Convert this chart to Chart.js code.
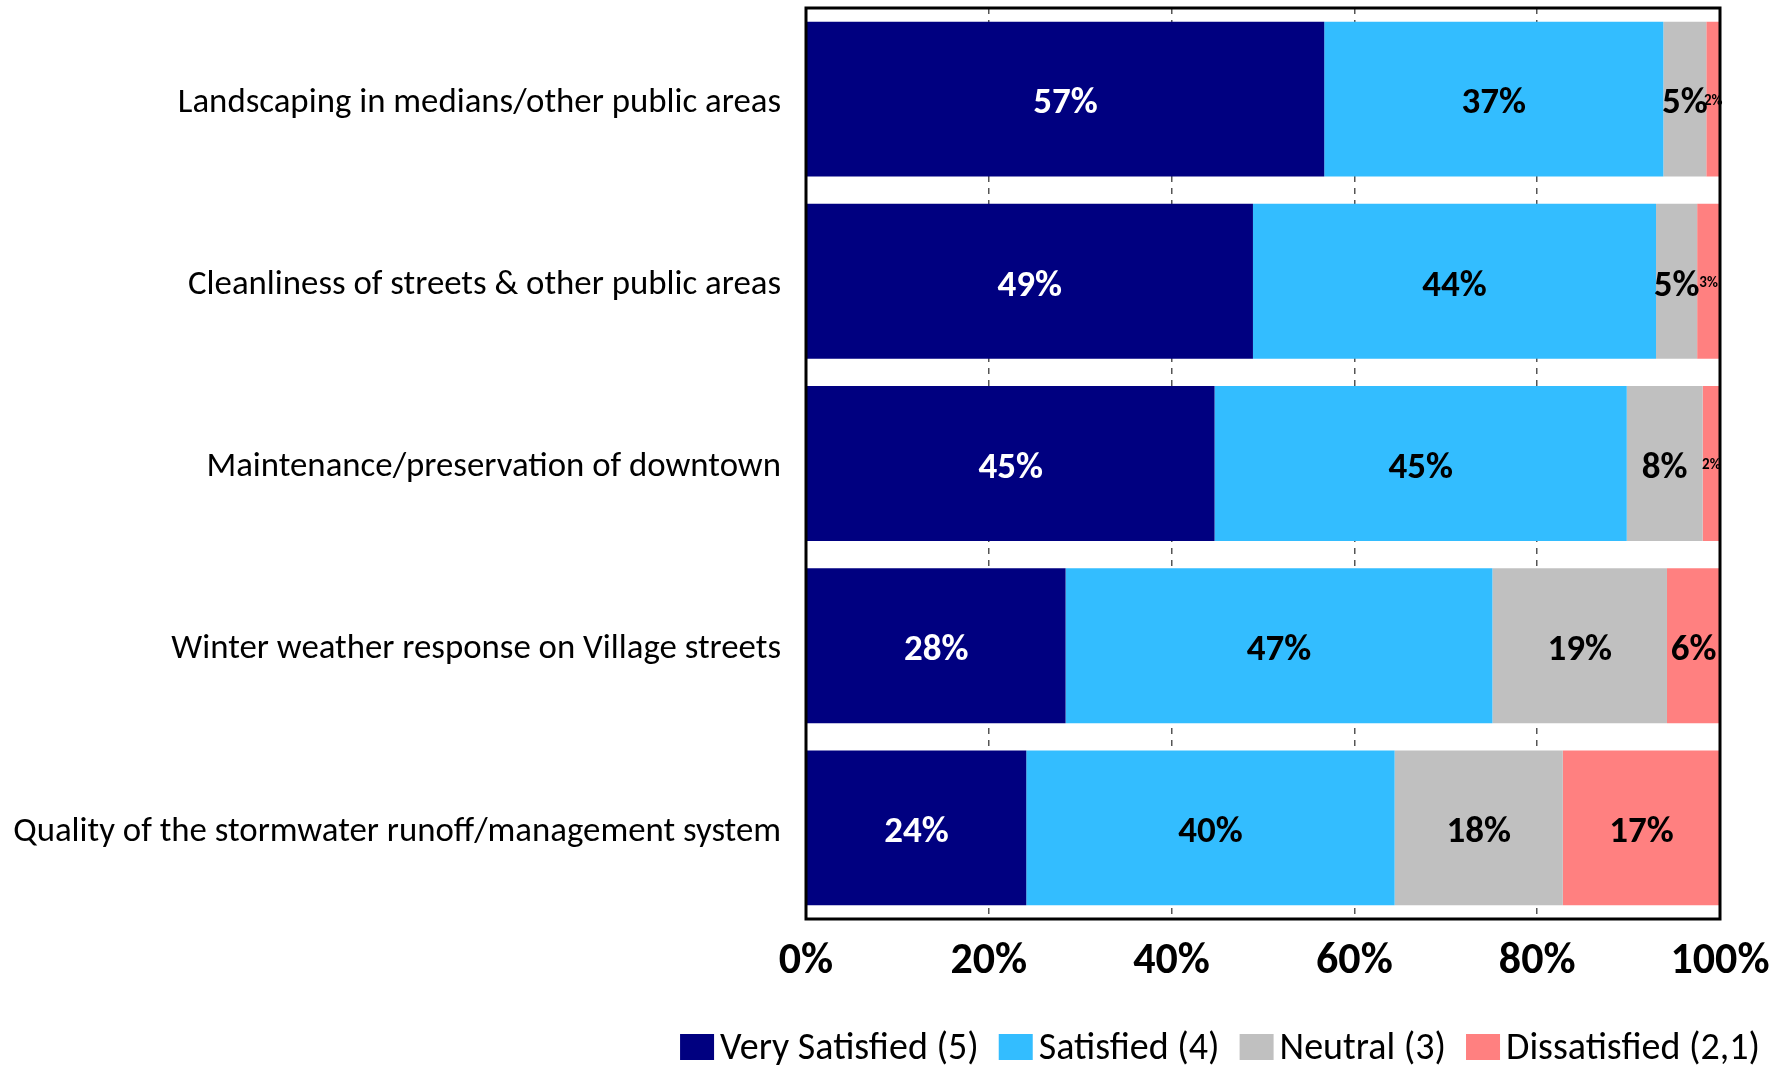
<!DOCTYPE html>
<html>
<head>
<meta charset="utf-8">
<script src="https://cdn.jsdelivr.net/npm/chart.js@4.4.0/dist/chart.umd.min.js"></script>
<style>
  html, body { margin: 0; padding: 0; background: #fff; }
  #wrap { width: 1783px; height: 1068px; }
</style>
</head>
<body>
<div id="wrap"><canvas id="satisfactionChart"></canvas></div>
<script>
const categories = [
    'Landscaping in medians/other public areas',
    'Cleanliness of streets & other public areas',
    'Maintenance/preservation of downtown',
    'Winter weather response on Village streets',
    'Quality of the stormwater runoff/management system'
];
const seriesNames = ['Very Satisfied (5)', 'Satisfied (4)', 'Neutral (3)', 'Dissatisfied (2,1)'];
const verySatisfied = [56.7, 48.9, 44.7, 28.4, 24.1];
const satisfied = [37.1, 44.1, 45.1, 46.7, 40.3];
const neutral = [4.7, 4.5, 8.3, 19.1, 18.4];
const dissatisfied = [1.5, 2.5, 1.9, 5.8, 17.2];
const xTicks = [0, 20, 40, 60, 80, 100];

const colors = ['#000080', '#33BDFF', '#C0C0C0', '#FF8080'];
const labelColors = ['#ffffff', '#000000', '#000000', '#000000'];
const FONT = "Carlito, Calibri, Lato, sans-serif";

// percentage text in the middle of every segment, tiny for thin slivers
const segmentLabels = {
    id: 'segmentLabels',
    afterDatasetsDraw(chart) {
        const ctx = chart.ctx;
        ctx.save();
        ctx.textAlign = 'center';
        ctx.textBaseline = 'middle';
        chart.data.datasets.forEach((ds, i) => {
            const meta = chart.getDatasetMeta(i);
            meta.data.forEach((bar, j) => {
                const v = ds.data[j];
                const size = v < 3 ? 15 : 37;
                ctx.font = `bold ${size}px ${FONT}`;
                ctx.fillStyle = labelColors[i];
                ctx.fillText(Math.round(v) + '%', (bar.x + bar.base) / 2, bar.y + (v < 3 ? 2 : 5));
            });
        });
        ctx.restore();
    }
};

// black frame round the plot area
const plotFrame = {
    id: 'plotFrame',
    afterDraw(chart) {
        const a = chart.chartArea;
        const ctx = chart.ctx;
        ctx.save();
        ctx.strokeStyle = '#000';
        ctx.lineWidth = 3;
        ctx.strokeRect(a.left, a.top, a.right - a.left, a.bottom - a.top);
        ctx.restore();
    }
};

// compact legend row, right aligned under the axis labels
const bottomLegend = {
    id: 'bottomLegend',
    afterDraw(chart) {
        const ctx = chart.ctx;
        const boxW = 34, boxH = 26, gap = 6, itemGap = 20;
        const right = 1760, midY = 1047;
        ctx.save();
        ctx.font = `38px ${FONT}`;
        ctx.textBaseline = 'middle';
        ctx.textAlign = 'left';
        const sets = chart.data.datasets;
        const widths = sets.map(ds => boxW + gap + ctx.measureText(ds.label).width);
        let x = right - widths.reduce((a, b) => a + b, 0) - itemGap * (sets.length - 1);
        sets.forEach((ds, i) => {
            ctx.fillStyle = ds.backgroundColor;
            ctx.fillRect(x, midY - boxH / 2, boxW, boxH);
            ctx.fillStyle = '#000';
            ctx.fillText(ds.label, x + boxW + gap, midY + 2);
            x += widths[i] + itemGap;
        });
        ctx.restore();
    }
};

const series = [verySatisfied, satisfied, neutral, dissatisfied];

new Chart(document.getElementById('satisfactionChart'), {
    type: 'bar',
    data: {
        labels: categories,
        datasets: series.map((vals, i) => ({
            label: seriesNames[i],
            data: vals,
            backgroundColor: colors[i],
            borderWidth: 0,
            categoryPercentage: 1,
            barPercentage: 0.85
        }))
    },
    options: {
        indexAxis: 'y',
        responsive: true,
        maintainAspectRatio: false,
        animation: false,
        layout: { padding: { top: 8, right: 63, bottom: 51, left: 0 } },
        plugins: {
            tooltip: { enabled: false },
            legend: { display: false }
        },
        scales: {
            x: {
                stacked: true,
                min: 0,
                max: 100,
                afterBuildTicks(scale) {
                    scale.ticks = xTicks.map(v => ({ value: v }));
                },
                afterFit(scale) {
                    scale.height = 98;
                    scale.paddingLeft = 0;
                    scale.paddingRight = 0;
                },
                grid: {
                    color: (c) => (c.tick.value === 0 || c.tick.value === 100) ? 'rgba(0,0,0,0)' : '#555',
                    lineWidth: 1.5,
                    drawTicks: false
                },
                border: { display: false, dash: [6, 6] },
                ticks: {
                    padding: 17,
                    color: '#000',
                    font: { family: FONT, size: 44, weight: 'bold' },
                    callback: (v) => v + '%'
                }
            },
            y: {
                stacked: true,
                afterFit(scale) {
                    scale.width = 806;
                    scale.paddingTop = 0;
                    scale.paddingBottom = 0;
                },
                grid: { display: false },
                border: { display: false },
                ticks: {
                    padding: 17,
                    labelOffset: 4,
                    color: '#000',
                    font: { family: FONT, size: 34.8 }
                }
            }
        }
    },
    plugins: [segmentLabels, plotFrame, bottomLegend]
});
</script>
</body>
</html>
